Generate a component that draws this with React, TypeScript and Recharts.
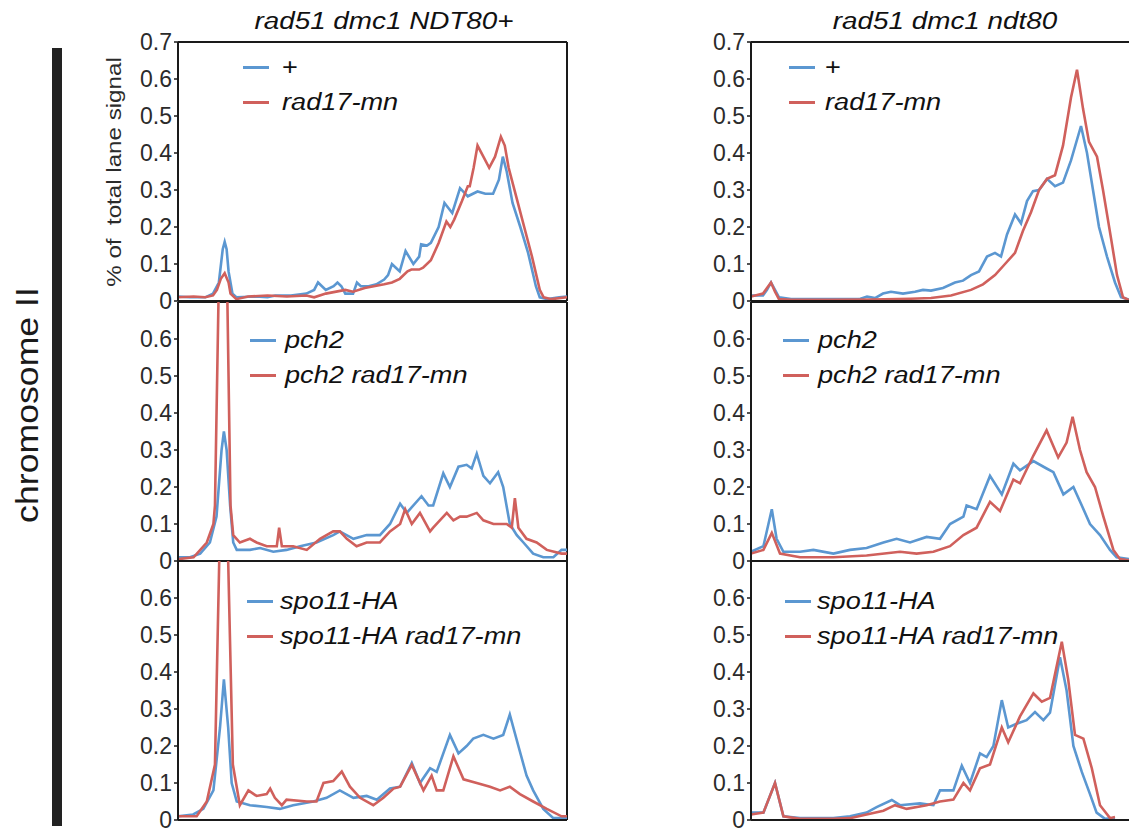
import React from 'react';
import { LineChart, Line, XAxis, YAxis, ReferenceLine } from 'recharts';

const BLUE = '#5b97d1';
const RED = '#d0605c';
const INK = '#1a1a1a';
const FONT = '"Liberation Sans", Arial, Helvetica, sans-serif';

type Pt = [number, number];

// labels
const columnTitles = ['rad51 dmc1 NDT80+', 'rad51 dmc1 ndt80'];
const rowLabel = 'chromosome II';
const yLabel = '% of  total lane signal';
const legendNames: [string, string][] = [
  ['+', 'rad17-mn'],
  ['pch2', 'pch2 rad17-mn'],
  ['spo11-HA', 'spo11-HA rad17-mn'],
];
const topTicks = [0, 0.1, 0.2, 0.3, 0.4, 0.5, 0.6, 0.7];
const lowerTicks = [0, 0.1, 0.2, 0.3, 0.4, 0.5, 0.6];
const laneTicks = [10, 20, 30, 40, 50, 60, 70, 80, 90];

// traces: [position along lane (0-100), % of total lane signal]
// NDT80+ column
const ndtPlus: Pt[] = [
  [0, 0.012], [3, 0.01], [7, 0.01], [9, 0.02], [10.5, 0.05], [11.5, 0.14], [12, 0.16], [12.5, 0.14],
  [13, 0.08], [14, 0.02], [15, 0.01], [20, 0.012], [23, 0.01], [25, 0.015], [29, 0.015], [33, 0.02],
  [35, 0.03], [36, 0.05], [37, 0.04], [38, 0.03], [40, 0.04], [41, 0.05], [42, 0.04], [43, 0.02],
  [45, 0.02], [46, 0.05], [47, 0.04], [49, 0.04], [51, 0.045], [53, 0.058], [54, 0.07], [55, 0.1],
  [56, 0.09], [57, 0.08], [58.5, 0.135], [60.5, 0.1], [62, 0.12], [62.5, 0.153], [64, 0.15], [65, 0.157],
  [67, 0.2], [68.5, 0.265], [70.5, 0.238], [72.5, 0.305], [74.5, 0.283], [77, 0.296], [79, 0.29],
  [81, 0.29], [82.5, 0.328], [83.5, 0.39], [84.5, 0.35], [86, 0.265], [88, 0.2], [90, 0.13], [92, 0.04],
  [93, 0.01], [95, 0.005], [98, 0.01], [100, 0.012],
];
const ndtRad17: Pt[] = [
  [0, 0.01], [4, 0.012], [7, 0.01], [9, 0.015], [10, 0.03], [11, 0.06], [12, 0.075], [13, 0.05],
  [13.5, 0.02], [15, 0.005], [18, 0.012], [23, 0.015], [28, 0.012], [33, 0.015], [35, 0.01], [38, 0.02],
  [43, 0.03], [45, 0.025], [48, 0.035], [53, 0.045], [55, 0.05], [57, 0.06], [59, 0.08], [60, 0.085],
  [62, 0.085], [63, 0.09], [65, 0.11], [67, 0.157], [69, 0.215], [70, 0.2], [71, 0.22], [73, 0.27],
  [74.5, 0.31], [75, 0.31], [76, 0.36], [77, 0.42], [78.5, 0.39], [80, 0.36], [81.5, 0.39], [83, 0.444],
  [84, 0.42], [85, 0.36], [87, 0.28], [89, 0.2], [91, 0.12], [93, 0.03], [94, 0.01], [96, 0.005], [100, 0.01],
];
const ndtPch2: Pt[] = [
  [0, 0.01], [3.1, 0.01], [5.7, 0.02], [8.2, 0.05], [9.9, 0.12], [11.2, 0.3], [11.8, 0.35], [12.5, 0.3],
  [13.4, 0.15], [14.2, 0.05], [15.1, 0.03], [18.5, 0.03], [21.1, 0.035], [24.5, 0.025], [27.9, 0.03],
  [31.4, 0.04], [35.6, 0.05], [39.9, 0.07], [41.6, 0.08], [45.1, 0.06], [48.5, 0.07], [51.9, 0.07],
  [54.5, 0.1], [57.1, 0.155], [58.8, 0.13], [62.6, 0.175], [64.4, 0.15], [65.6, 0.15], [68.2, 0.237],
  [69.9, 0.2], [72.1, 0.255], [74.2, 0.26], [75.5, 0.25], [76.8, 0.29], [78.5, 0.23], [80.2, 0.21],
  [82.3, 0.24], [83.6, 0.2], [85.3, 0.1], [87.1, 0.07], [88.8, 0.05], [91.3, 0.02], [93.9, 0.01],
  [96.5, 0.01], [98.6, 0.03], [100, 0.03],
];
const ndtPch2Rad17: Pt[] = [
  [0, 0.005], [4, 0.01], [7.4, 0.05], [9.1, 0.1], [9.5, 0.15], [10.4, 0.7], [11.5, 1.3], [12.7, 0.7],
  [13.5, 0.15], [14.2, 0.07], [15.9, 0.05], [18.5, 0.06], [20.2, 0.05], [22.8, 0.04], [25.4, 0.04],
  [26, 0.09], [26.7, 0.04], [29.6, 0.04], [33.1, 0.03], [36.5, 0.06], [39.9, 0.08], [41.6, 0.08],
  [43.4, 0.06], [45.9, 0.04], [48.5, 0.05], [51.9, 0.05], [54.5, 0.08], [57.1, 0.1], [58.4, 0.14],
  [60.1, 0.1], [62.2, 0.13], [64.8, 0.08], [65.6, 0.09], [69.1, 0.13], [70.8, 0.11], [72.5, 0.12],
  [74.2, 0.12], [76.8, 0.13], [78.5, 0.11], [81.1, 0.1], [84.5, 0.1], [85.8, 0.09], [86.6, 0.17],
  [87.5, 0.09], [89.6, 0.06], [92.2, 0.05], [94.8, 0.03], [98.6, 0.02], [100, 0.02],
];
const ndtSpo11: Pt[] = [
  [0, 0.01], [3.9, 0.015], [6.5, 0.03], [9.1, 0.08], [10.8, 0.25], [11.8, 0.38], [12.9, 0.25],
  [13.8, 0.1], [15.1, 0.05], [18.5, 0.04], [22.8, 0.035], [26.2, 0.03], [29.6, 0.04], [34.8, 0.05],
  [38.2, 0.06], [41.6, 0.08], [45.1, 0.06], [48.5, 0.065], [51.1, 0.055], [54.5, 0.085], [57.1, 0.09],
  [60.1, 0.154], [62.2, 0.1], [64.8, 0.14], [66.5, 0.13], [69.9, 0.23], [72.1, 0.18], [74.2, 0.2],
  [75.9, 0.22], [78.5, 0.23], [81.1, 0.22], [83.6, 0.23], [85.3, 0.285], [87.5, 0.2], [89.6, 0.12],
  [91.3, 0.08], [93.9, 0.03], [96.5, 0.005], [98.6, 0.005], [100, 0.005],
];
const ndtSpo11Rad17: Pt[] = [
  [0, 0.01], [4.8, 0.01], [7.4, 0.05], [9.5, 0.15], [10.6, 0.7], [11.7, 1.3], [12.9, 0.7], [14.1, 0.15],
  [15.9, 0.04], [18.1, 0.08], [20.2, 0.065], [22.8, 0.07], [23.7, 0.085], [24.9, 0.06], [26.7, 0.04],
  [27.9, 0.055], [33.1, 0.05], [35.6, 0.05], [37.4, 0.1], [39.9, 0.105], [42.1, 0.131], [44.2, 0.09],
  [46.8, 0.06], [50.2, 0.04], [52.8, 0.06], [55.4, 0.085], [57.1, 0.09], [60.1, 0.149], [63.1, 0.08],
  [65.2, 0.12], [66.5, 0.08], [68.2, 0.08], [70.8, 0.172], [73.4, 0.11], [76.8, 0.1], [80.2, 0.09],
  [82.8, 0.08], [85.3, 0.09], [87.9, 0.07], [91.3, 0.05], [94.8, 0.03], [98.6, 0.01], [100, 0.01],
];

// ndt80 column
const ndt80Plus: Pt[] = [
  [0, 0.015], [3, 0.015], [4, 0.03], [5, 0.05], [6, 0.03], [7, 0.01], [10, 0.005], [20, 0.005],
  [27, 0.005], [29, 0.012], [31, 0.008], [33, 0.02], [35, 0.025], [38, 0.02], [41, 0.025], [43, 0.03],
  [45, 0.028], [48, 0.035], [51, 0.05], [53, 0.055], [55, 0.07], [57, 0.08], [59, 0.12], [61, 0.13],
  [62.5, 0.12], [64, 0.18], [66, 0.234], [67.5, 0.21], [69, 0.27], [70.5, 0.297], [72, 0.3], [74, 0.33],
  [76, 0.31], [78, 0.32], [80, 0.38], [82.5, 0.473], [84, 0.4], [85.5, 0.3], [87, 0.2], [89, 0.12],
  [91, 0.05], [92.5, 0.01], [95, 0.002], [100, 0],
];
const ndt80Rad17: Pt[] = [
  [0, 0.012], [3, 0.02], [4, 0.035], [5, 0.05], [6, 0.025], [7, 0.005], [10, 0.003], [20, 0.003],
  [30, 0.004], [40, 0.006], [45, 0.008], [50, 0.015], [55, 0.03], [58, 0.045], [61, 0.07], [63.5, 0.1],
  [66, 0.13], [68, 0.19], [70, 0.24], [72, 0.3], [74, 0.33], [76, 0.34], [78, 0.42], [80, 0.55],
  [81.5, 0.625], [83, 0.52], [84.5, 0.43], [86.5, 0.39], [88, 0.3], [90, 0.17], [91.5, 0.07], [93, 0.01],
  [95, 0], [100, 0],
];
const ndt80Pch2: Pt[] = [
  [0, 0.025], [3.1, 0.04], [5.2, 0.14], [6.4, 0.06], [8.1, 0.025], [12.25, 0.025], [15.6, 0.03],
  [20.6, 0.02], [24.75, 0.03], [28.9, 0.035], [33.1, 0.05], [36.4, 0.06], [39.75, 0.05], [43.9, 0.065],
  [47.25, 0.06], [49.75, 0.1], [53.1, 0.12], [53.9, 0.15], [56.4, 0.14], [59.75, 0.23], [62.7, 0.18],
  [65.6, 0.263], [67.25, 0.245], [70.6, 0.27], [73.9, 0.25], [75.6, 0.24], [78.1, 0.18], [80.6, 0.2],
  [82.7, 0.15], [84.75, 0.1], [87.25, 0.07], [89.75, 0.03], [91.4, 0.01], [94.5, 0.005], [100, 0],
];
const ndt80Pch2Rad17: Pt[] = [
  [0, 0.02], [3.1, 0.03], [5.2, 0.076], [7.25, 0.02], [12.25, 0.01], [20.6, 0.01], [28.9, 0.015],
  [37.25, 0.025], [41.4, 0.02], [45.6, 0.025], [49.75, 0.04], [53.1, 0.07], [56.4, 0.09], [59.75, 0.16],
  [62.25, 0.135], [65.6, 0.22], [67.25, 0.21], [70.6, 0.285], [73.9, 0.353], [76.8, 0.28], [78.9, 0.32],
  [80.4, 0.39], [82.25, 0.3], [83.9, 0.24], [86, 0.2], [88.1, 0.12], [90.6, 0.03], [92.25, 0.005],
  [94.5, 0.002], [100, 0],
];
const ndt80Spo11: Pt[] = [
  [0, 0.02], [3.1, 0.02], [6, 0.1], [8.1, 0.01], [12.25, 0.005], [20.6, 0.005], [24.75, 0.01],
  [28.9, 0.02], [31.4, 0.035], [35.2, 0.054], [37.25, 0.04], [42.25, 0.045], [45.6, 0.04], [47.25, 0.08],
  [50.6, 0.08], [52.7, 0.147], [54.75, 0.1], [57.25, 0.18], [58.9, 0.17], [60.6, 0.2], [62.7, 0.324],
  [64.3, 0.25], [66.4, 0.26], [68.9, 0.27], [71, 0.292], [73.1, 0.27], [74.75, 0.29], [77.25, 0.44],
  [78.9, 0.35], [80.6, 0.2], [82.7, 0.13], [84.75, 0.07], [86.4, 0.02], [88.5, 0.003], [91, 0.005],
];
const ndt80Spo11Rad17: Pt[] = [
  [0, 0.015], [3.1, 0.02], [6, 0.1], [8.1, 0.01], [12.25, 0.003], [20.6, 0.003], [24.75, 0.005],
  [28.9, 0.015], [33.1, 0.025], [36, 0.04], [38.9, 0.03], [43.9, 0.04], [47.25, 0.05], [50.6, 0.055],
  [53.1, 0.1], [54.75, 0.08], [57.25, 0.14], [59.75, 0.15], [62.7, 0.25], [64.3, 0.21], [67.25, 0.28],
  [70.6, 0.342], [72.7, 0.32], [74.75, 0.33], [77.7, 0.482], [79.3, 0.38], [81, 0.23], [83.1, 0.22],
  [85.2, 0.14], [87.25, 0.04], [89.75, 0.005], [91, 0.008],
];

const toRows = (pts: Pt[]) => pts.map(([u, v]) => ({ u, v }));
const fmt = (v: number) => (v === 0 ? '0' : v.toFixed(1));

const AXIS_W = 78;
const PLOT_H = 259;
const M_TOP = 12;
const X_H = 14;

interface PanelProps {
  left: number;
  top: number;
  plotW: number;
  blue: Pt[];
  red: Pt[];
  ticks: number[];
  names: [string, string];
  legend: { x: number; y: number; text: number };
  laneTickMarks?: boolean;
}

function Panel({ left, top, plotW, blue, red, ticks, names, legend, laneTickMarks }: PanelProps) {
  const frame = { stroke: INK, strokeWidth: 2 };
  return (
    <>
      <div style={{ position: 'absolute', left: left - AXIS_W, top: top - M_TOP }}>
        <LineChart
          width={AXIS_W + plotW + 6}
          height={M_TOP + PLOT_H + X_H}
          margin={{ top: M_TOP, right: 6, bottom: 0, left: 0 }}
        >
          <XAxis
            type="number" dataKey="u" domain={[0, 100]} allowDataOverflow
            ticks={laneTickMarks ? laneTicks : []} interval={0}
            tick={false} tickSize={5}
            tickLine={laneTickMarks ? { stroke: INK, strokeWidth: 2 } : false}
            axisLine={frame} height={X_H}
          />
          <YAxis
            type="number" domain={[0, 0.7]} allowDataOverflow
            ticks={ticks} interval={0} width={AXIS_W} tickSize={4} tickMargin={2}
            tick={{ fill: '#2b2b2b', fontSize: 23, fontFamily: FONT }}
            tickFormatter={fmt}
            axisLine={frame} tickLine={{ stroke: INK, strokeWidth: 1.5 }}
          />
          <ReferenceLine y={0.7} {...frame} />
          <ReferenceLine x={100} {...frame} />
          <Line data={toRows(blue)} dataKey="v" type="linear" stroke={BLUE} strokeWidth={2.6}
            dot={false} isAnimationActive={false} />
          <Line data={toRows(red)} dataKey="v" type="linear" stroke={RED} strokeWidth={2.6}
            dot={false} isAnimationActive={false} />
        </LineChart>
      </div>
      {names.map((name, i) => (
        <div key={name}>
          <div style={{
            position: 'absolute', left: legend.x, top: legend.y + i * 35 - 1.5,
            width: 26, height: 3, background: i === 0 ? BLUE : RED,
          }} />
          <div style={{
            position: 'absolute', left: legend.text, top: legend.y + i * 35,
            transform: 'translateY(-50%) scaleX(1.18)', transformOrigin: 'left center',
            fontFamily: FONT, fontSize: 23, lineHeight: 1, fontStyle: name === '+' ? 'normal' : 'italic',
            color: '#111', whiteSpace: 'nowrap',
          }}>{name}</div>
        </div>
      ))}
    </>
  );
}

export default function App() {
  const rowsTop = [42, 301.5, 561];
  return (
    <div style={{
      position: 'fixed', left: 0, top: 0, width: 1129, height: 832,
      overflow: 'hidden', background: '#fff', fontFamily: FONT,
    }}>
      {/* column titles */}
      {columnTitles.map((t, i) => (
        <div key={t} style={{
          position: 'absolute', left: i === 0 ? 384 : 945, top: 21,
          transform: 'translate(-50%, -50%) scaleX(1.21)',
          fontSize: 23, lineHeight: 1, fontStyle: 'italic', color: '#111', whiteSpace: 'nowrap',
        }}>{t}</div>
      ))}

      {/* row label and bar */}
      <div style={{
        position: 'absolute', left: 27, top: 405,
        transform: 'translate(-50%, -50%) rotate(-90deg) scaleX(1.15)',
        fontSize: 31, lineHeight: 1, color: '#1a1a1a', whiteSpace: 'nowrap',
      }}>{rowLabel}</div>
      <div style={{ position: 'absolute', left: 52, top: 48, width: 10, height: 778, background: '#222' }} />

      {/* y axis title */}
      <div style={{
        position: 'absolute', left: 113, top: 172,
        transform: 'translate(-50%, -50%) rotate(-90deg) scaleX(1.15)',
        fontSize: 21, lineHeight: 1, color: '#2b2b2b', whiteSpace: 'pre',
      }}>{yLabel}</div>

      {/* NDT80+ column */}
      <Panel left={178} top={rowsTop[0]} plotW={389} blue={ndtPlus} red={ndtRad17} ticks={topTicks}
        names={legendNames[0]} legend={{ x: 243, y: 67, text: 282 }} />
      <Panel left={178} top={rowsTop[1]} plotW={389} blue={ndtPch2} red={ndtPch2Rad17} ticks={lowerTicks}
        names={legendNames[1]} legend={{ x: 250, y: 340, text: 285 }} />
      <Panel left={178} top={rowsTop[2]} plotW={389} blue={ndtSpo11} red={ndtSpo11Rad17} ticks={lowerTicks}
        names={legendNames[2]} legend={{ x: 247, y: 601, text: 280 }} />

      {/* ndt80 column */}
      <Panel left={751} top={rowsTop[0]} plotW={400} blue={ndt80Plus} red={ndt80Rad17} ticks={topTicks}
        names={legendNames[0]} legend={{ x: 789, y: 67, text: 825 }} laneTickMarks />
      <Panel left={751} top={rowsTop[1]} plotW={400} blue={ndt80Pch2} red={ndt80Pch2Rad17} ticks={lowerTicks}
        names={legendNames[1]} legend={{ x: 783, y: 340, text: 818 }} />
      <Panel left={751} top={rowsTop[2]} plotW={400} blue={ndt80Spo11} red={ndt80Spo11Rad17} ticks={lowerTicks}
        names={legendNames[2]} legend={{ x: 785, y: 601, text: 817 }} />
    </div>
  );
}
